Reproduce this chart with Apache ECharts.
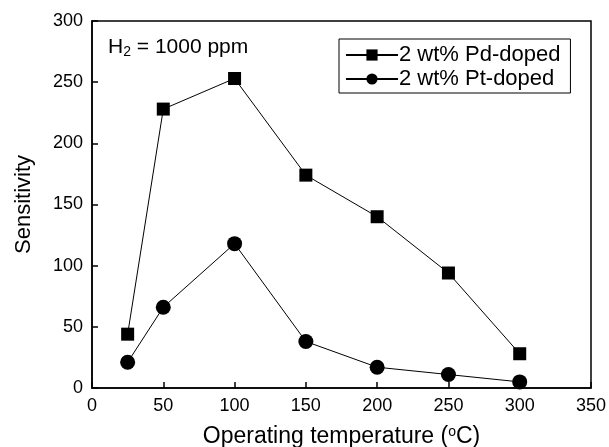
<!DOCTYPE html>
<html>
<head>
<meta charset="utf-8">
<script src="https://cdn.jsdelivr.net/npm/echarts@6/dist/echarts.min.js"></script>
<style>html,body{margin:0;padding:0;background:#fff}#c{width:609px;height:447px}</style>
</head>
<body>
<div id="c"></div>
<script>
const temperatures = [25, 50, 100, 150, 200, 250, 300];
const pdDoped = [44, 228, 253, 174, 140, 94, 28];
const ptDoped = [21, 66, 118, 38, 17, 11, 5];
const xTicks = [0, 50, 100, 150, 200, 250, 300, 350];
const yTicks = [0, 50, 100, 150, 200, 250, 300];

const font = 'Liberation Sans, Arial, sans-serif';
const chart = echarts.init(document.getElementById('c'));
const axisCommon = {
  axisLine: { show: true, onZero: false, lineStyle: { color: '#000', width: 1.5 } },
  axisTick: { show: true, inside: true, length: 6, lineStyle: { color: '#000', width: 1.5 } },
  splitLine: { show: false },
  axisLabel: { color: '#000', fontSize: 18, fontFamily: font }
};
chart.setOption({
  animation: false,
  backgroundColor: '#fff',
  grid: { left: 92, right: 18, top: 21, bottom: 59, outerBoundsMode: 'none', containLabel: false, show: true, borderColor: '#000', borderWidth: 1.5, backgroundColor: 'transparent' },
  xAxis: Object.assign({}, axisCommon, {
    type: 'value', min: xTicks[0], max: xTicks[xTicks.length - 1], interval: 50,
    name: '{n|Operating temperature (}{s|o}{n|C)}', nameLocation: 'middle', nameGap: 37,
    nameTextStyle: { rich: { n: { fontSize: 23, fontFamily: font, color: '#000' }, s: { fontSize: 14, fontFamily: font, color: '#000', verticalAlign: 'top', padding: [0, 0, 10, 0] } } },
    axisLabel: Object.assign({}, axisCommon.axisLabel, { margin: 9 })
  }),
  yAxis: Object.assign({}, axisCommon, {
    type: 'value', min: yTicks[0], max: yTicks[yTicks.length - 1], interval: 50,
    name: 'Sensitivity', nameLocation: 'middle', nameGap: 57,
    nameTextStyle: { fontSize: 22, fontFamily: font, color: '#000' },
    axisLabel: Object.assign({}, axisCommon.axisLabel, { margin: 9 })
  }),
  legend: {
    orient: 'vertical', left: 339, top: 39, padding: [5, 10, 3, 6],
    borderColor: '#000', borderWidth: 1, itemWidth: 52, itemHeight: 14, itemGap: 2,
    textStyle: { fontSize: 22, fontFamily: font, color: '#000', padding: [0, 0, 0, -4] },
    data: ['2 wt% Pd-doped', '2 wt% Pt-doped']
  },
  graphic: [{
    type: 'text', left: 108, top: 37,
    style: {
      text: '{n|H}{s|2}{n| = 1000 ppm}',
      rich: { n: { fontSize: 21, fontFamily: font, fill: '#000' }, s: { fontSize: 14, fontFamily: font, fill: '#000', verticalAlign: 'bottom', padding: [10, 0, 0, 0] } }
    }
  }],
  series: [
    { name: '2 wt% Pd-doped', type: 'line', data: temperatures.map((t, i) => [t, pdDoped[i]]),
      symbol: 'rect', symbolSize: 13, itemStyle: { color: '#000' }, lineStyle: { color: '#000', width: 1 } },
    { name: '2 wt% Pt-doped', type: 'line', data: temperatures.map((t, i) => [t, ptDoped[i]]),
      symbol: 'circle', symbolSize: 15, itemStyle: { color: '#000' }, lineStyle: { color: '#000', width: 1 } }
  ]
});
</script>
</body>
</html>
